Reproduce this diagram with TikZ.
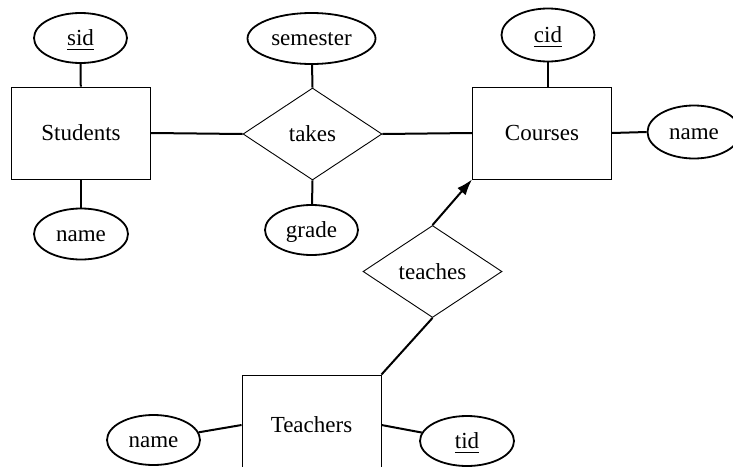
\documentclass[tikz,border=0pt]{standalone}
\usepackage{fontspec}
\setmainfont{Liberation Serif}
\usetikzlibrary{shapes.geometric,arrows.meta}
\newcommand\keyul[1]{\vtop{\hbox{#1}\kern1.7pt\hrule height0.65pt}}
\begin{document}
\begin{tikzpicture}[x=0.5pt,y=-0.5pt,
  every node/.style={font=\fontsize{11.5}{13}\selectfont, inner sep=0pt},
  entity/.style={draw, line width=0.45pt, rectangle, minimum width=69.5pt, minimum height=46pt},
  rel/.style={draw, line width=0.45pt, diamond, aspect=1.5, minimum width=69.5pt, minimum height=46pt},
  attr/.style={draw, line width=0.9pt, ellipse, minimum width=46.5pt, minimum height=25pt, text height=7.5pt, text depth=0pt},
  conn/.style={line width=1pt}]
\useasboundingbox (0,0) rectangle (733,466);
\begin{scope}
\clip (0,0) rectangle (733,466);
% entities
\node[entity] (S) at (81,133) {Students};
\node[entity] (C) at (542,133) {Courses};
\node[entity, minimum height=50pt] (T) at (311.5,425) {Teachers};
% relationships
\node[rel] (takes) at (312.5,134) {takes};
\node[rel] (teaches) at (432.5,271.5) {teaches};
% attributes
\node[attr] (sid) at (80.5,38) {\keyul{sid}};
\node[attr, minimum width=47pt, minimum height=25.5pt] (sname) at (81,234) {name};
\node[attr, minimum width=64pt, minimum height=25.5pt] (sem) at (311.5,38.5) {semester};
\node[attr] (grade) at (311.5,230) {grade};
\node[attr, minimum height=26.5pt] (cid) at (548,35) {\keyul{cid}};
\node[attr, minimum height=26.5pt] (cname) at (694,132) {name};
\node[attr] (tname) at (153.5,440) {name};
\node[attr, minimum width=47pt] (tid) at (467,441) {\keyul{tid}};
% connectors
\draw[conn] (sid) -- (S);
\draw[conn] (S) -- (sname);
\draw[conn] (S.east) -- (takes.west);
\draw[conn] (takes.east) -- (C.west);
\draw[conn] (sem) -- (takes.north);
\draw[conn] (takes.south) -- (grade);
\draw[conn] (cid.south) -- (cid |- C.north);
\draw[conn] (C.east) -- (cname.west);
\draw[conn, -{Latex[length=8pt,width=5.5pt]}] (teaches.north) -- (C.south west);
\draw[conn] (teaches.south) -- (T.north east);
\draw[conn] (T.west) -- (tname);
\draw[conn] (T.east) -- (tid);
\end{scope}
\end{tikzpicture}
\end{document}
